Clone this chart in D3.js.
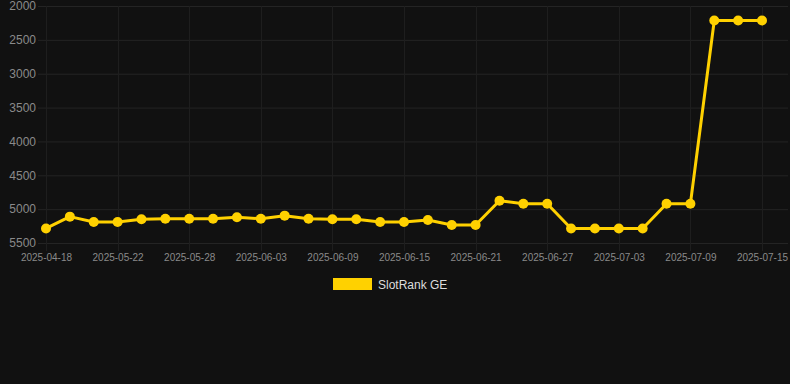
<!DOCTYPE html>
<html><head><meta charset="utf-8">
<script src="https://cdn.jsdelivr.net/npm/d3@7"></script>
<style>html,body{margin:0;padding:0;background:#111111;}svg{display:block;}</style>
</head><body>
<svg id="c" width="790" height="384"></svg>
<script>
const dates = ["2025-04-18","2025-05-18","2025-05-20","2025-05-22","2025-05-24","2025-05-26","2025-05-28","2025-05-30","2025-06-01","2025-06-03","2025-06-05","2025-06-07","2025-06-09","2025-06-11","2025-06-13","2025-06-15","2025-06-17","2025-06-19","2025-06-21","2025-06-23","2025-06-25","2025-06-27","2025-06-29","2025-07-01","2025-07-03","2025-07-05","2025-07-07","2025-07-09","2025-07-11","2025-07-13","2025-07-15"];
const ranks = [5285,5111,5190,5190,5150,5141,5141,5141,5120,5141,5096,5141,5150,5150,5190,5190,5160,5235,5235,4876,4921,4921,5285,5285,5285,5285,4921,4921,2215,2215,2215];
const yTicks = [2000,2500,3000,3500,4000,4500,5000,5500];
const seriesName = "SlotRank GE";

const svg = d3.select("#c");
const color = "#FFD100";
const x = d3.scalePoint().domain(dates).range([46, 762]);
const y = d3.scaleLinear().domain([2000, 5500]).range([6, 243]);
const shown = dates.filter((d, i) => i % 3 === 0);

// grid
svg.append("g").selectAll("line").data(yTicks).join("line")
  .attr("x1", 38).attr("x2", 788).attr("y1", d => y(d) + 0.5).attr("y2", d => y(d) + 0.5)
  .attr("stroke", "#242424").attr("stroke-width", 1);
svg.append("g").selectAll("line").data(shown).join("line")
  .attr("x1", d => Math.round(x(d)) + 0.5).attr("x2", d => Math.round(x(d)) + 0.5)
  .attr("y1", 6).attr("y2", 251)
  .attr("stroke", "#1e1e1e").attr("stroke-width", 1);

// y axis labels
const yAxis = d3.axisLeft(y).tickValues(yTicks).tickSize(0).tickPadding(0).tickFormat(d3.format("d"));
const ga = svg.append("g").attr("transform", "translate(36,0)").call(yAxis);
ga.select(".domain").remove();
ga.selectAll("text").attr("fill", "#8a8a8a").attr("font-family", "Arial, Liberation Sans, sans-serif").attr("font-size", 12);

// x axis labels
const xAxis = d3.axisBottom(x).tickValues(shown).tickSize(0).tickPadding(0);
const gx = svg.append("g").attr("transform", "translate(0,254)").call(xAxis);
gx.select(".domain").remove();
gx.selectAll("text").attr("fill", "#8a8a8a").attr("font-family", "Arial, Liberation Sans, sans-serif").attr("font-size", 10);

// line
const line = d3.line().x((d, i) => x(dates[i])).y(d => y(d));
svg.append("path").datum(ranks).attr("d", line)
  .attr("fill", "none").attr("stroke", color).attr("stroke-width", 3).attr("stroke-linejoin", "round");
svg.append("g").selectAll("circle").data(ranks).join("circle")
  .attr("cx", (d, i) => x(dates[i])).attr("cy", d => y(d)).attr("r", 5)
  .attr("fill", color);

// legend
svg.append("rect").attr("x", 333).attr("y", 278).attr("width", 39).attr("height", 12).attr("fill", color);
svg.append("text").attr("x", 378).attr("y", 289).text(seriesName)
  .attr("fill", "#dddddd").attr("font-family", "Arial, Liberation Sans, sans-serif").attr("font-size", 12);
</script>
</body></html>
